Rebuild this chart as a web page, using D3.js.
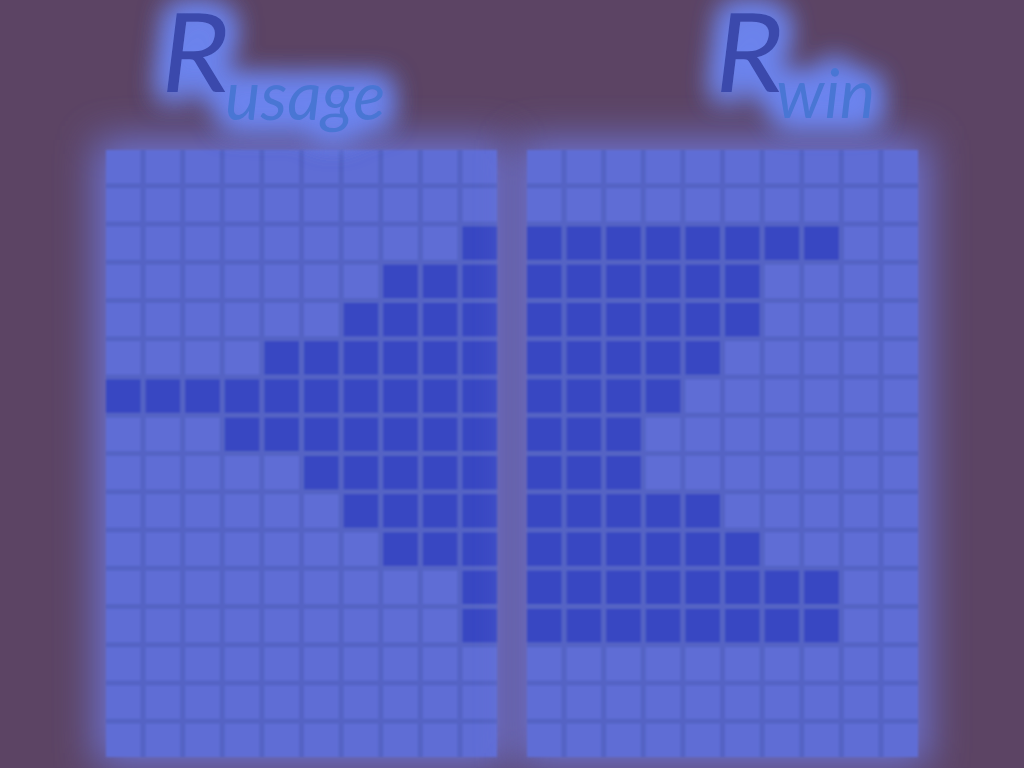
<!DOCTYPE html>
<html>
<head>
<meta charset="utf-8">
<script src="https://cdn.jsdelivr.net/npm/d3@7"></script>
<style>
  html, body { margin: 0; padding: 0; background: #5c4464; }
  svg { display: block; }
</style>
</head>
<body>
<svg id="chart" width="1024" height="768"></svg>
<script>
// ---- data ----
const columns = d3.range(10);           // 10 columns per grid
const rows = d3.range(16);              // 16 rows per grid
const titles = [
  { main: "R", sub: "usage" },
  { main: "R", sub: "win" }
];
// 1 = highlighted (dark) cell, 0 = plain cell
const usageGrid = [
  "0000000000",
  "0000000000",
  "0000000001",
  "0000000111",
  "0000001111",
  "0000111111",
  "1111111111",
  "0001111111",
  "0000011111",
  "0000001111",
  "0000000111",
  "0000000001",
  "0000000001",
  "0000000000",
  "0000000000",
  "0000000000"
];
const winGrid = [
  "0000000000",
  "0000000000",
  "1111111100",
  "1111110000",
  "1111110000",
  "1111100000",
  "1111000000",
  "1110000000",
  "1110000000",
  "1111100000",
  "1111110000",
  "1111111100",
  "1111111100",
  "0000000000",
  "0000000000",
  "0000000000"
];

// ---- drawing ----
const svg = d3.select("#chart");
const W = 1024, H = 768;

const defs = svg.append("defs");
const glow = defs.append("filter").attr("id", "gridGlow")
  .attr("x", "-40%").attr("y", "-40%").attr("width", "180%").attr("height", "180%");
glow.append("feGaussianBlur").attr("stdDeviation", 20);

const textGlow = defs.append("filter").attr("id", "textGlow")
  .attr("x", "-60%").attr("y", "-80%").attr("width", "220%").attr("height", "260%");
textGlow.append("feMorphology").attr("in", "SourceAlpha").attr("operator", "dilate").attr("radius", 7).attr("result", "d");
textGlow.append("feGaussianBlur").attr("in", "d").attr("stdDeviation", 14).attr("result", "b");
textGlow.append("feFlood").attr("flood-color", "#6c84ee").attr("flood-opacity", 1).attr("result", "c");
textGlow.append("feComposite").attr("in", "c").attr("in2", "b").attr("operator", "in").attr("result", "g");
const tm = textGlow.append("feMerge");
tm.append("feMergeNode").attr("in", "g");
tm.append("feMergeNode").attr("in", "g");
tm.append("feMergeNode").attr("in", "SourceGraphic");

const soften = defs.append("filter").attr("id", "soften");
soften.append("feGaussianBlur").attr("stdDeviation", 0.8);

svg.append("rect").attr("width", W).attr("height", H).attr("fill", "#5c4464");

const grids = [
  { data: usageGrid, x0: 106, x1: 497, title: titles[0], tx: 157, subx: 225, suby: 120 },
  { data: winGrid,   x0: 527, x1: 918, title: titles[1], tx: 711, subx: 776, suby: 118 }
];
const y0 = 150, y1 = 757;

const y = d3.scaleBand().domain(rows).range([y0, y1]).paddingInner(0.13).paddingOuter(0);

grids.forEach(g => {
  const x = d3.scaleBand().domain(columns).range([g.x0, g.x1]).paddingInner(0.13).paddingOuter(0);

  // glow behind grid
  svg.append("rect")
    .attr("x", g.x0 - 10).attr("y", y0 - 10)
    .attr("width", g.x1 - g.x0 + 20).attr("height", y1 - y0 + 20)
    .attr("fill", "#6e78e0").attr("opacity", 0.9)
    .attr("filter", "url(#gridGlow)");

  const grp = svg.append("g").attr("filter", "url(#soften)");
  // gap / line colour
  grp.append("rect")
    .attr("x", g.x0).attr("y", y0)
    .attr("width", g.x1 - g.x0).attr("height", y1 - y0)
    .attr("fill", "#5464c4");

  const cells = [];
  g.data.forEach((row, r) => {
    row.split("").forEach((v, c) => cells.push({ r, c, v: +v }));
  });

  grp.selectAll("rect.cell").data(cells).join("rect")
    .attr("class", "cell")
    .attr("x", d => x(d.c))
    .attr("y", d => y(d.r))
    .attr("width", x.bandwidth())
    .attr("height", y.bandwidth())
    .attr("fill", d => d.v ? "#3746c2" : "#5e6dd5");
});

grids.forEach(g => {
  // title
  const t = svg.append("g").attr("filter", "url(#textGlow)");
  t.append("text")
    .attr("transform", `translate(${g.tx},92) skewX(-7)`)
    .attr("font-family", "Lato, 'Open Sans', sans-serif")
    .attr("font-size", 110)
    .attr("fill", "#3a49ac")
    .text(g.title.main);
  t.append("text")
    .attr("x", g.subx).attr("y", g.suby)
    .attr("font-family", "Lato, 'Open Sans', sans-serif")
    .attr("font-style", "italic")
    .attr("font-size", 67)
    .attr("fill", "#4a76d4")
    .text(g.title.sub);
});
</script>
</body>
</html>
